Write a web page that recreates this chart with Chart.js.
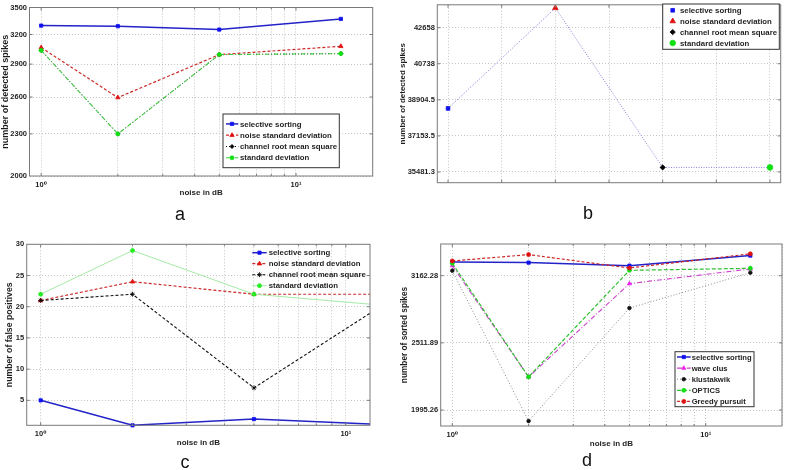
<!DOCTYPE html>
<html>
<head>
<meta charset="utf-8">
<script src="https://cdn.jsdelivr.net/npm/chart.js@4.4.0/dist/chart.umd.min.js"></script>
<style>
  body { margin: 0; background: #fff; }
  #fig { position: relative; width: 787px; height: 470px; overflow: hidden; font-family: 'Liberation Sans', Arial, sans-serif; }
  #fig canvas { position: absolute; left: 0; top: 0; }
  .tag { position: absolute; font-size: 18px; line-height: 1; color: #111; transform: translateX(-50%); }
</style>
</head>
<body>
<div id="fig">
  <canvas id="chartA" width="787" height="470"></canvas>
  <canvas id="chartB" width="787" height="470"></canvas>
  <canvas id="chartC" width="787" height="470"></canvas>
  <canvas id="chartD" width="787" height="470"></canvas>
  <span class="tag" style="left:180px;top:205px">a</span>
  <span class="tag" style="left:588px;top:204px">b</span>
  <span class="tag" style="left:185px;top:453px">c</span>
  <span class="tag" style="left:587px;top:451px">d</span>
</div>
<script>
const W = 787;
const H = 470;
const FONT = "'Liberation Sans', Arial, 'DejaVu Sans', sans-serif";
const TEXT = '#1e1e1e';
const AXIS = '#7a7a7a';
const GRID = '#c4c4c4';

// shared x values (noise in dB)
const noiseDb = [1, 2, 5, 15];
const logGridTicks = [1, 2, 3, 4, 5, 6, 7, 8, 9, 10, 20];
const logGridTicksC = [1, 2, 3, 4, 5, 6, 7, 8, 9, 10];

// panel a
const aMethods = ['selective sorting', 'noise standard deviation', 'channel root mean square', 'standard deviation'];
const aSelective = [3296, 3289, 3253, 3370];
const aNoiseStd = [3064, 2595, 2993, 3077];
const aChannelRms = [3036, 2300, 2993, 3003];
const aStdDev = [3036, 2300, 2993, 3003];
const aYTicks = [2000, 2300, 2600, 2900, 3200, 3500];

// panel b
const bMethods = ['selective sorting', 'noise standard deviation', 'channel root mean square', 'standard deviation'];
const bPos = [1, 2, 3, 4];
const bSpikes = [38480, 43740, 35690, 35690];
const bYTicks = [35481.3, 37153.5, 38904.5, 40738, 42658];
const bXTicks = [1, 1.5, 2, 2.5, 3, 3.5, 4];

// panel c
const cMethods = ['selective sorting', 'noise standard deviation', 'channel root mean square', 'standard deviation'];
const cSelective = [5, 1, 2, 1];
const cNoiseStd = [21, 24, 22, 22];
const cChannelRms = [21, 22, 7, 22];
const cStdDev = [22, 29, 22, 20];
const cYTicks = [5, 10, 15, 20, 25, 30];

// panel d
const dMethods = ['selective sorting', 'wave clus', 'klustakwik', 'OPTICS', 'Greedy pursuit'];
const dSelective = [3315, 3307, 3273, 3388];
const dWaveClus = [3273, 2235, 3077, 3236];
const dKlustakwik = [3217, 1921, 2830, 3195];
const dOptics = [3300, 2235, 3221, 3243];
const dGreedy = [3326, 3399, 3247, 3408];
const dYTicks = [1995.26, 2511.89, 3162.28];

const styles = {
  blue: { borderColor: '#2323c8', borderWidth: 1.5, pointStyle: 'rect', pointRadius: 2.3, pointBackgroundColor: '#1010f0', pointBorderColor: '#1010f0' },
  redTri: { borderColor: '#cc2a2a', borderWidth: 1.2, borderDash: [3, 2], pointStyle: 'triangle', pointRadius: 2.5, pointBackgroundColor: '#e01010', pointBorderColor: '#e01010' },
  blackDot: { borderColor: '#111', borderWidth: 1, borderDash: [1, 2], pointStyle: 'rectRot', pointRadius: 2, pointBackgroundColor: '#000', pointBorderColor: '#000' },
  greenDashDot: { borderColor: '#3fcf3f', borderWidth: 1.1, borderDash: [4, 2, 1, 2], pointStyle: 'circle', pointRadius: 2, pointBackgroundColor: '#10e010', pointBorderColor: '#10e010' },
  blackDash: { borderColor: '#111', borderWidth: 1.1, borderDash: [3, 2], pointStyle: 'star', pointRadius: 2.5, pointBackgroundColor: '#000', pointBorderColor: '#000' },
  greenThin: { borderColor: '#a6eaa6', borderWidth: 1, pointStyle: 'circle', pointRadius: 2, pointBackgroundColor: '#22ee22', pointBorderColor: '#22ee22' },
  magenta: { borderColor: '#cc40cc', borderWidth: 1.1, borderDash: [5, 2, 1, 2], pointStyle: 'triangle', pointRadius: 2.4, pointBackgroundColor: '#ee22ee', pointBorderColor: '#ee22ee' },
  grayDot: { borderColor: '#8a8a8a', borderWidth: 1, borderDash: [1, 2], pointStyle: 'circle', pointRadius: 1.8, pointBackgroundColor: '#111', pointBorderColor: '#111' },
  greenDash: { borderColor: '#30c030', borderWidth: 1.2, borderDash: [4, 2], pointStyle: 'circle', pointRadius: 2, pointBackgroundColor: '#10e010', pointBorderColor: '#10e010' },
  redDash: { borderColor: '#cc2a2a', borderWidth: 1.2, borderDash: [3, 2], pointStyle: 'circle', pointRadius: 2, pointBackgroundColor: '#e01010', pointBorderColor: '#e01010' }
};

function axisFont(size) {
  return { family: FONT, size, weight: 'bold' };
}

function series(label, xs, ys, style, i, clip) {
  return {
    label,
    data: xs.map((x, k) => ({ x, y: ys[k] })),
    fill: false,
    tension: 0,
    pointBorderWidth: 0.8,
    order: -i,
    clip,
    ...style
  };
}

const logLabel = v => (v === 1 ? '10\u2070' : v === 10 ? '10\u00b9' : '');
const plainLabel = v => String(v);

// Matlab style box with inward tick marks
const axesBox = {
  id: 'axesBox',
  afterDatasetsDraw(chart) {
    const { ctx, chartArea: a, scales } = chart;
    ctx.save();
    ctx.strokeStyle = AXIS;
    ctx.lineWidth = 1;
    ctx.setLineDash([]);
    ctx.strokeRect(a.left, a.top, a.right - a.left, a.bottom - a.top);
    ctx.beginPath();
    scales.x.ticks.forEach(t => {
      const px = scales.x.getPixelForValue(t.value);
      if (px < a.left + 1 || px > a.right - 1) return;
      const len = t.label === '' ? 2 : 3;
      ctx.moveTo(px, a.bottom);
      ctx.lineTo(px, a.bottom - len);
      ctx.moveTo(px, a.top);
      ctx.lineTo(px, a.top + len);
    });
    scales.y.ticks.forEach(t => {
      const py = scales.y.getPixelForValue(t.value);
      if (py < a.top + 1 || py > a.bottom - 1) return;
      ctx.moveTo(a.left, py);
      ctx.lineTo(a.left + 3, py);
      ctx.moveTo(a.right, py);
      ctx.lineTo(a.right - 3, py);
    });
    ctx.stroke();
    ctx.restore();
  }
};

const legendBox = {
  id: 'legendBox',
  afterDraw(chart, args, opts) {
    const { ctx } = chart;
    const items = chart.data.datasets.filter(ds => ds.inLegend !== false);
    ctx.save();
    if (opts.frame) {
      ctx.fillStyle = '#fff';
      ctx.fillRect(opts.x, opts.y, opts.w, opts.h);
      ctx.strokeStyle = '#333';
      ctx.lineWidth = 1;
      ctx.strokeRect(opts.x, opts.y, opts.w, opts.h);
    }
    const top = opts.y + (opts.h - items.length * opts.rowH) / 2;
    items.forEach((ds, i) => {
      const cy = top + opts.rowH * (i + 0.5);
      if (ds.showLine !== false) {
        ctx.strokeStyle = ds.borderColor;
        ctx.lineWidth = ds.borderWidth;
        ctx.setLineDash(ds.borderDash || []);
        ctx.beginPath();
        ctx.moveTo(opts.x + opts.lineFrom, cy);
        ctx.lineTo(opts.x + opts.lineTo, cy);
        ctx.stroke();
      }
      ctx.setLineDash([]);
      ctx.fillStyle = ds.pointBackgroundColor;
      ctx.strokeStyle = ds.pointBorderColor;
      ctx.lineWidth = ds.pointBorderWidth;
      Chart.helpers.drawPoint(ctx, { pointStyle: ds.pointStyle, radius: ds.pointRadius, borderWidth: ds.pointBorderWidth, rotation: 0 }, opts.x + opts.markX, cy);
      ctx.fillStyle = TEXT;
      ctx.font = `bold ${opts.fontSize}px ${FONT}`;
      ctx.textAlign = 'left';
      ctx.textBaseline = 'middle';
      ctx.fillText(ds.label, opts.x + opts.textX, cy + 0.5);
    });
    ctx.restore();
  }
};

function makeScale(s, axis, size) {
  return {
    type: s.type,
    position: axis === 'x' ? 'bottom' : 'left',
    min: s.min,
    max: s.max,
    afterBuildTicks: scale => {
      scale.ticks = s.ticks.map(value => ({ value }));
    },
    afterFit: scale => {
      if (axis === 'x') {
        scale.height = size;
        scale.paddingLeft = 0;
        scale.paddingRight = 0;
      } else {
        scale.width = size;
        scale.paddingTop = 0;
        scale.paddingBottom = 0;
      }
    },
    grid: { color: GRID, lineWidth: 1, drawTicks: false },
    border: { display: false, dash: [1, 2] },
    ticks: {
      display: s.showTicks !== false,
      autoSkip: false,
      maxRotation: 0,
      padding: axis === 'x' ? 4 : 2.5,
      color: TEXT,
      font: axisFont(7.5),
      callback: s.label
    },
    title: { display: !!s.title, text: s.title || '', color: TEXT, font: axisFont(s.titleSize || 8), padding: 0 }
  };
}

function buildPanel(id, p) {
  const { area } = p;
  const ctx = document.getElementById(id).getContext('2d');
  return new Chart(ctx, {
    type: 'line',
    data: { datasets: p.datasets },
    options: {
      responsive: false,
      animation: false,
      devicePixelRatio: 1,
      layout: {
        padding: { left: area.l - p.yw, top: area.t, right: W - area.r, bottom: H - area.b - p.xh }
      },
      scales: {
        x: makeScale(p.x, 'x', p.xh),
        y: makeScale(p.y, 'y', p.yw)
      },
      plugins: {
        legend: { display: false },
        tooltip: { enabled: false },
        legendBox: p.legend
      }
    },
    plugins: [axesBox, legendBox]
  });
}

// a
const aStyles = [styles.blue, styles.redTri, styles.blackDot, styles.greenDashDot];
const aValues = [aSelective, aNoiseStd, aChannelRms, aStdDev];
buildPanel('chartA', {
  area: { l: 29.5, t: 7.5, r: 372.7, b: 176 },
  yw: 29.5,
  xh: 21.8,
  x: { type: 'logarithmic', min: 0.9, max: 20, ticks: logGridTicks, label: logLabel, title: 'noise in dB' },
  y: { type: 'logarithmic', min: 2000, max: 3500, ticks: aYTicks, label: plainLabel, title: 'number of detected spikes', titleSize: 9 },
  datasets: aMethods.map((m, i) => series(m, noiseDb, aValues[i], aStyles[i], i, 6)),
  legend: { x: 223, y: 114, w: 116.3, h: 53.7, rowH: 11.3, lineFrom: 3, lineTo: 15.3, markX: 9, textX: 17, fontSize: 7.8, frame: true }
});

// b
const bStyles = [
  { pointStyle: 'rect', pointRadius: 2.6, pointBackgroundColor: '#1010f0', pointBorderColor: '#1010f0' },
  { pointStyle: 'triangle', pointRadius: 3.2, pointBackgroundColor: '#e01010', pointBorderColor: '#e01010' },
  { pointStyle: 'rectRot', pointRadius: 2.6, pointBackgroundColor: '#000', pointBorderColor: '#000' },
  { pointStyle: 'circle', pointRadius: 2.8, pointBackgroundColor: '#10e010', pointBorderColor: '#10e010' }
];
const bDatasets = [{
  label: 'path',
  inLegend: false,
  data: bPos.map((x, k) => ({ x, y: bSpikes[k] })),
  borderColor: '#7f7fd8',
  borderWidth: 1,
  borderDash: [1, 1.5],
  pointRadius: 0,
  tension: 0,
  order: 1,
  clip: 6
}].concat(bMethods.map((m, i) => ({
  label: m,
  data: [{ x: bPos[i], y: bSpikes[i] }],
  showLine: false,
  pointBorderWidth: 0.8,
  order: -i,
  clip: 6,
  ...bStyles[i]
})));
buildPanel('chartB', {
  area: { l: 437.3, t: 2.7, r: 780.7, b: 182.7 },
  yw: 39.1,
  xh: 0,
  x: { type: 'linear', min: 0.9, max: 4.1, ticks: bXTicks, label: plainLabel, showTicks: false },
  y: { type: 'logarithmic', min: 35000, max: 43920, ticks: bYTicks, label: plainLabel, title: 'number of detected spikes' },
  datasets: bDatasets,
  legend: { x: 662.7, y: 4, w: 116.6, h: 45.3, rowH: 10.9, lineFrom: 0, lineTo: 0, markX: 10, textX: 17.3, fontSize: 7.8, frame: true }
});

// c
const cStyles = [styles.blue, styles.redTri, styles.blackDash, styles.greenThin];
const cValues = [cSelective, cNoiseStd, cChannelRms, cStdDev];
const cClip = { left: 5, top: 5, right: 0, bottom: 5 };
buildPanel('chartC', {
  area: { l: 26.7, t: 244.3, r: 370, b: 425.3 },
  yw: 22.2,
  xh: 21.8,
  x: { type: 'logarithmic', min: 0.9, max: 12, ticks: logGridTicksC, label: logLabel, title: 'noise in dB' },
  y: { type: 'linear', min: 1, max: 30, ticks: cYTicks, label: plainLabel, title: 'number of false positives', titleSize: 8.7 },
  datasets: cMethods.map((m, i) => series(m, noiseDb, cValues[i], cStyles[i], i, cClip)),
  legend: { x: 250, y: 247.2, w: 120, h: 44, rowH: 11, lineFrom: 2.3, lineTo: 16.7, markX: 9.5, textX: 18.7, fontSize: 7.8, frame: false }
});

// d
const dStyles = [styles.blue, styles.magenta, styles.grayDot, styles.greenDash, styles.redDash];
const dValues = [dSelective, dWaveClus, dKlustakwik, dOptics, dGreedy];
buildPanel('chartD', {
  area: { l: 440.7, t: 244, r: 782, b: 426 },
  yw: 40.5,
  xh: 22.1,
  x: { type: 'logarithmic', min: 0.9, max: 20, ticks: logGridTicks, label: logLabel, title: 'noise in dB' },
  y: { type: 'logarithmic', min: 1889, max: 3525, ticks: dYTicks, label: plainLabel, title: 'number of sorted spikes', titleSize: 8.3 },
  datasets: dMethods.map((m, i) => series(m, noiseDb, dValues[i], dStyles[i], i, 6)),
  legend: { x: 675, y: 351.7, w: 79, h: 55, rowH: 11.1, lineFrom: 2, lineTo: 15.7, markX: 8.8, textX: 16.7, fontSize: 7.6, frame: true }
});
</script>
</body>
</html>
